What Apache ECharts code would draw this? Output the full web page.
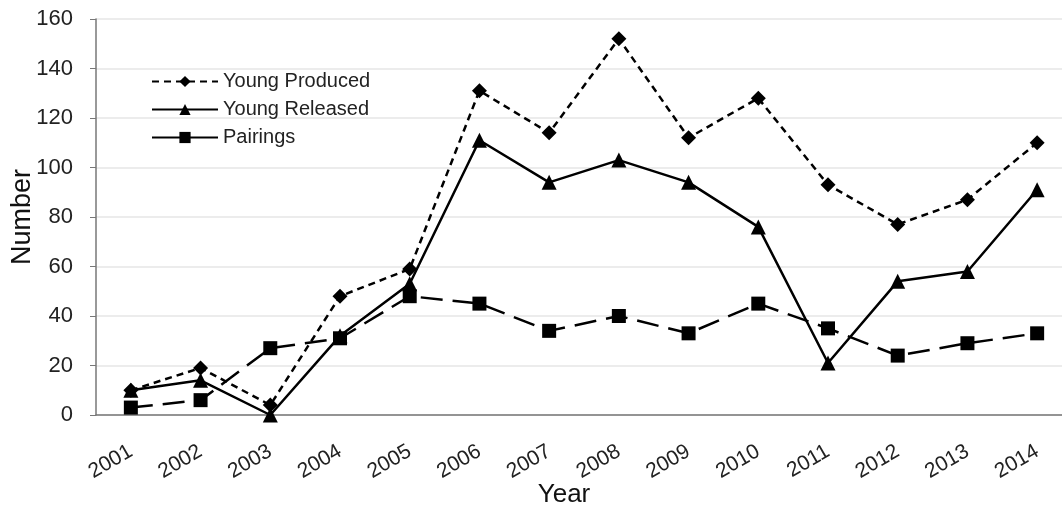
<!DOCTYPE html>
<html>
<head>
<meta charset="utf-8">
<script src="https://cdn.jsdelivr.net/npm/echarts@6/dist/echarts.min.js"></script>
<style>
html,body{margin:0;padding:0;background:#fff;}
#chart{width:1062px;height:508px;}
</style>
</head>
<body>
<div id="chart"></div>
<script>
const years = ['2001','2002','2003','2004','2005','2006','2007','2008','2009','2010','2011','2012','2013','2014'];
const youngProduced = [10, 19, 4, 48, 59, 131, 114, 152, 112, 128, 93, 77, 87, 110];
const youngReleased = [10, 14, 0, 32, 53, 111, 94, 103, 94, 76, 21, 54, 58, 91];
const pairings = [3, 6, 27, 31, 48, 45, 34, 40, 33, 45, 35, 24, 29, 33];
const yTicks = [0, 20, 40, 60, 80, 100, 120, 140, 160];

const font = 'Liberation Sans, Arial, Helvetica, sans-serif';
const chart = echarts.init(document.getElementById('chart'), null, {renderer: 'canvas'});
chart.setOption({
  backgroundColor: '#fff',
  animation: false,
  textStyle: {fontFamily: font},
  grid: {left: 96, right: -10, top: 19, bottom: 93, containLabel: false, outerBoundsMode: 'none'},
  legend: {
    orient: 'vertical',
    left: 146,
    top: 66,
    itemWidth: 66,
    itemHeight: 14,
    itemGap: 7,
    textStyle: {fontFamily: font, fontSize: 20, color: '#222', lineHeight: 21},
    data: [
      {name: 'Young Produced'},
      {name: 'Young Released'},
      {name: 'Pairings', lineStyle: {type: 'solid'}}
    ]
  },
  xAxis: {
    type: 'category',
    data: years,
    boundaryGap: true,
    name: 'Year',
    nameLocation: 'middle',
    nameGap: 67,
    nameMoveOverlap: false,
    nameTextStyle: {fontFamily: font, fontSize: 26, color: '#111', padding: [0, 40, 0, 0]},
    axisLine: {lineStyle: {color: '#777', width: 1.5}},
    axisTick: {alignWithLabel: true, length: 6, lineStyle: {color: '#777'}},
    axisLabel: {rotate: 30, fontFamily: font, fontSize: 21, color: '#222', margin: 35}
  },
  yAxis: {
    type: 'value',
    min: yTicks[0],
    max: yTicks[yTicks.length - 1],
    interval: 20,
    name: 'Number',
    nameLocation: 'middle',
    nameGap: 60,
    nameMoveOverlap: false,
    nameTextStyle: {fontFamily: font, fontSize: 27, color: '#111'},
    axisLine: {show: true, lineStyle: {color: '#777', width: 1.5}},
    axisTick: {show: true, length: 6, lineStyle: {color: '#777'}},
    axisLabel: {fontFamily: font, fontSize: 22, color: '#222', margin: 23},
    splitLine: {lineStyle: {color: '#e6e6e6', width: 1.5}}
  },
  series: [
    {
      name: 'Young Produced',
      type: 'line',
      data: youngProduced,
      symbol: 'diamond',
      symbolSize: 15,
      itemStyle: {color: '#000'},
      lineStyle: {color: '#000', width: 2.5, type: [7, 5]},
      z: 3
    },
    {
      name: 'Young Released',
      type: 'line',
      data: youngReleased,
      symbol: 'triangle',
      symbolSize: 15,
      itemStyle: {color: '#000'},
      lineStyle: {color: '#000', width: 2.5, type: 'solid'},
      z: 4
    },
    {
      name: 'Pairings',
      type: 'line',
      data: pairings,
      symbol: 'rect',
      symbolSize: 14,
      itemStyle: {color: '#000'},
      lineStyle: {color: '#000', width: 2.5, type: [22, 10]},
      z: 2
    }
  ]
});
</script>
</body>
</html>
